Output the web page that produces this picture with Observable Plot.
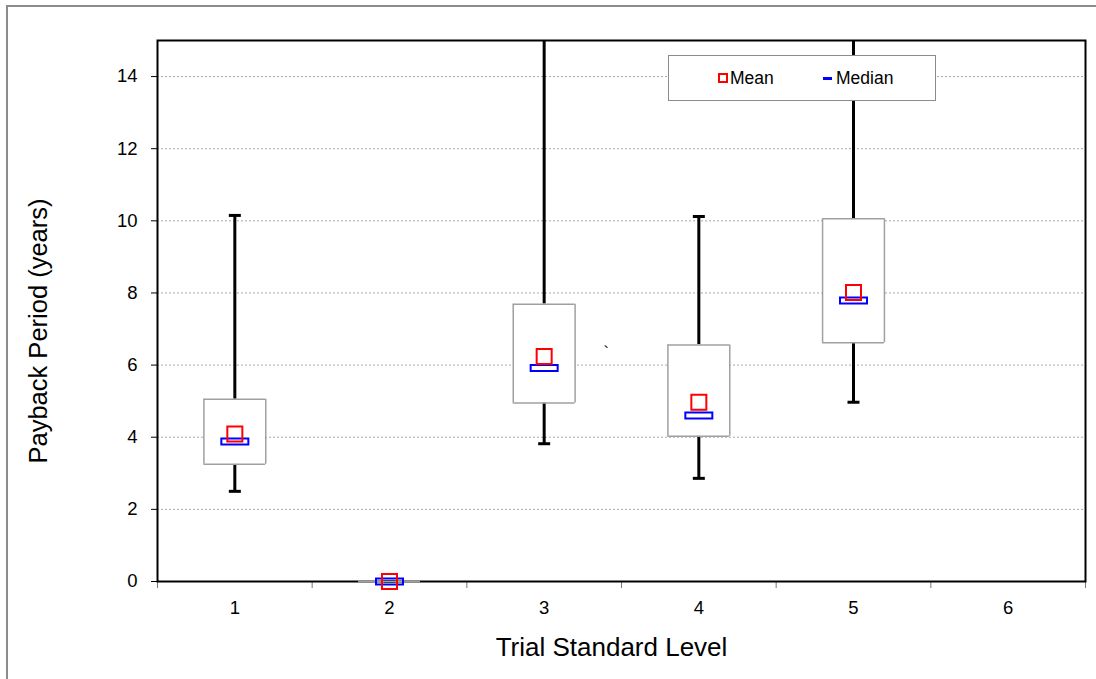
<!DOCTYPE html>
<html>
<head>
<meta charset="utf-8">
<script src="https://cdn.jsdelivr.net/npm/d3@7"></script>
<script src="https://cdn.jsdelivr.net/npm/@observablehq/plot@0.6"></script>
<style>
  html, body { margin: 0; padding: 0; background: #fff; overflow: hidden; }
  #wrap { position: relative; width: 1096px; height: 679px; font-family: "Liberation Sans", Arial, sans-serif; }
  #outer { position: absolute; left: 6px; top: 5px; width: 1300px; height: 900px;
           border-left: 2px solid #8c8c8c; border-top: 2px solid #8c8c8c; pointer-events: none; }
  #legend { position: absolute; left: 668px; top: 55px; width: 266px; height: 44px;
            border: 1px solid #8c8c8c; background: #fff; font-size: 17.5px; color: #000; }
  #legend .item { position: absolute; top: 0; height: 44px; line-height: 44px; white-space: nowrap; }
  #legend .sq { position: absolute; width: 6px; height: 6px; border: 2px solid #ff0000; top: 17px; }
  #legend .dash { position: absolute; width: 9px; height: 3px; background: #0000ff; top: 21px; }
</style>
</head>
<body>
<div id="wrap">
  <div id="chart"></div>
  <div id="outer"></div>
  <div id="legend">
    <span class="sq" style="left:49px"></span>
    <span class="item" style="left:61px">Mean</span>
    <span class="dash" style="left:154px"></span>
    <span class="item" style="left:167px">Median</span>
  </div>
</div>
<script>
// ---- data ----
const levels     = [1, 2, 3, 4, 5];
const minVals    = [2.50, 0, 3.82, 2.86, 4.97];
const q1Vals     = [3.25, 0, 4.95, 4.03, 6.62];
const medianVals = [3.88, 0, 5.92, 4.60, 7.79];
const meanVals   = [4.09, 0, 6.24, 4.97, 8.01];
const q3Vals     = [5.05, 0, 7.69, 6.56, 10.06];
const maxVals    = [10.15, 0, 16.5, 10.12, 16.5]; // levels 3 and 5 run off the top of the chart

const xLevels = [1, 2, 3, 4, 5, 6];
const xLabels = ["1", "2", "3", "4", "5", "6"];
const yTicks  = [0, 2, 4, 6, 8, 10, 12, 14];
const xTitle  = "Trial Standard Level";
const yTitle  = "Payback Period (years)";
const strayText = [{ label: "`", level: 3.4, value: 6.35 }];

const boxes = levels.map((level, i) => ({
  level, min: minVals[i], q1: q1Vals[i], median: medianVals[i],
  mean: meanVals[i], q3: q3Vals[i], max: maxVals[i]
}));
const xBounds = xLevels.map(d => d - 0.5).concat([xLevels[xLevels.length - 1] + 0.5]);
const half = 0.2;

const capSymbol = { draw(ctx) { ctx.moveTo(-6, 0); ctx.lineTo(6, 0); } };
const medianSymbol = { draw(ctx) { ctx.rect(-13.5, -3, 27, 6); } };
const meanSymbol = { draw(ctx) { ctx.rect(-7.5, -7.5, 15, 15); } };

const chart = Plot.plot({
  width: 1096,
  height: 679,
  marginLeft: 157,
  marginRight: 11,
  marginTop: 40,
  marginBottom: 98,
  style: { fontFamily: "'Liberation Sans', Arial, sans-serif", fontSize: "18px", background: "white", color: "black" },
  x: { domain: [0.5, 6.5] },
  y: { domain: [0, 15] },
  marks: [
    Plot.gridY(yTicks.filter(d => d > 0), { stroke: "#a8a8a8", strokeOpacity: 1, strokeDasharray: "2,2" }),
    Plot.axisY(yTicks, { tickSize: 6, tickPadding: 14, fontSize: 18.5, label: null, stroke: "#000" }),
    Plot.axisX(xBounds, { tickSize: 7, tickFormat: () => "", label: null, stroke: "#777" }),
    Plot.axisX(xLevels, { tickSize: 0, tickPadding: 19, fontSize: 18.5, label: null,
                          tickFormat: d => xLabels[xLevels.indexOf(d)] }),
    Plot.frame({ stroke: "black", strokeWidth: 2 }),
    // whiskers
    Plot.ruleX(boxes, { x: "level", y1: "min", y2: "q1", stroke: "black", strokeWidth: 3 }),
    Plot.ruleX(boxes, { x: "level", y1: "q3", y2: "max", stroke: "black", strokeWidth: 3, clip: true }),
    Plot.dot(boxes, { x: "level", y: "min", symbol: capSymbol, fill: "none", stroke: "black", strokeWidth: 3 }),
    Plot.dot(boxes, { x: "level", y: "max", symbol: capSymbol, fill: "none", stroke: "black", strokeWidth: 3, clip: true }),
    // boxes
    Plot.rect(boxes, { x1: d => d.level - half, x2: d => d.level + half, y1: "q1", y2: "q3", fill: "white" }),
    Plot.ruleY(boxes, { y: "q1", x1: d => d.level - half, x2: d => d.level + half, stroke: "#a0a0a0", strokeWidth: 1.5 }),
    Plot.ruleY(boxes, { y: "q3", x1: d => d.level - half, x2: d => d.level + half, stroke: "#a0a0a0", strokeWidth: 1.5 }),
    Plot.ruleX(boxes, { x: d => d.level - half, y1: "q1", y2: "q3", stroke: "#a0a0a0", strokeWidth: 1.5 }),
    Plot.ruleX(boxes, { x: d => d.level + half, y1: "q1", y2: "q3", stroke: "#a0a0a0", strokeWidth: 1.5 }),
    // median & mean
    Plot.dot(boxes, { x: "level", y: "median", symbol: medianSymbol, fill: "none", stroke: "#0000ff", strokeWidth: 2 }),
    Plot.dot(boxes, { x: "level", y: "mean", symbol: meanSymbol, fill: "none", stroke: "#ff0000", strokeWidth: 2 }),
    // stray mark
    Plot.text(strayText, { x: "level", y: "value", text: "label", fontSize: 16, fill: "black" }),
    // axis titles
    Plot.text([xTitle], { frameAnchor: "bottom", textAnchor: "middle", lineAnchor: "bottom",
                          dx: -10, dy: 74, fontSize: 26, fill: "black" }),
    Plot.text([yTitle], { frameAnchor: "left", textAnchor: "middle", lineAnchor: "middle",
                          dx: -119, dy: 20, rotate: -90, fontSize: 25.5, fill: "black" })
  ]
});
document.getElementById("chart").appendChild(chart);
</script>
</body>
</html>
